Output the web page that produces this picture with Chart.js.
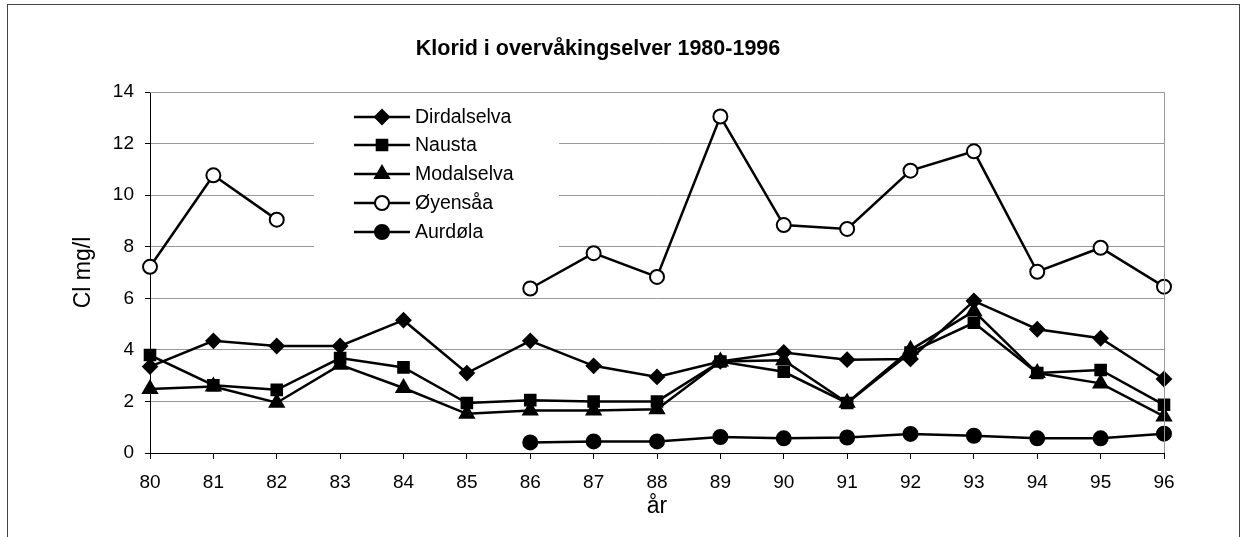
<!DOCTYPE html>
<html>
<head>
<meta charset="utf-8">
<script src="https://cdn.jsdelivr.net/npm/chart.js@4"></script>
<style>
  html, body { margin: 0; padding: 0; background: #fff; }
  #wrap { width: 1243px; height: 537px; position: relative; }
</style>
</head>
<body>
<div id="wrap"><canvas id="chart" width="1243" height="537"></canvas></div>
<script>
// years on the x axis
var years = ["80", "81", "82", "83", "84", "85", "86", "87", "88", "89", "90", "91", "92", "93", "94", "95", "96"];

// Cl mg/l per river
var dirdalselva = [3.35, 4.35, 4.15, 4.15, 5.15, 3.1, 4.35, 3.38, 2.95, 3.55, 3.9, 3.62, 3.65, 5.9, 4.8, 4.45, 2.87];
var nausta      = [3.8, 2.63, 2.45, 3.68, 3.32, 1.94, 2.05, 2.0, 2.0, 3.55, 3.15, 1.94, 3.9, 5.05, 3.1, 3.22, 1.87];
var modalselva  = [2.48, 2.58, 1.95, 3.42, 2.52, 1.52, 1.65, 1.65, 1.7, 3.55, 3.6, 1.95, 4.0, 5.5, 3.1, 2.7, 1.42];
var oyensaa     = [7.22, 10.77, 9.05, null, null, null, 6.38, 7.75, 6.83, 13.05, 8.84, 8.69, 10.95, 11.7, 7.03, 7.96, 6.45];
var aurdola     = [null, null, null, null, null, null, 0.41, 0.45, 0.45, 0.62, 0.57, 0.6, 0.74, 0.67, 0.57, 0.57, 0.75];

var seriesNames = ["Dirdalselva", "Nausta", "Modalselva", "Øyensåa", "Aurdøla"];
var yTicks = [0, 2, 4, 6, 8, 10, 12, 14];

var FONT = "'Liberation Sans', Arial, sans-serif";

function ds(label, data, style, radius, fill) {
  return {
    label: label,
    data: data,
    borderColor: "#000",
    borderWidth: 2.5,
    pointStyle: style,
    pointRadius: radius,
    pointHoverRadius: radius,
    pointBackgroundColor: fill,
    pointBorderColor: "#000",
    pointBorderWidth: 2,
    spanGaps: false,
    tension: 0
  };
}

var datasets = [
  ds(seriesNames[0], dirdalselva, "rectRot", 7, "#000"),
  ds(seriesNames[1], nausta, "rect", 7.5, "#000"),
  ds(seriesNames[2], modalselva, "triangle", 8, "#000"),
  ds(seriesNames[3], oyensaa, "circle", 7, "#fff"),
  ds(seriesNames[4], aurdola, "circle", 7, "#000")
];

// frame, plot border, title and the legend box inside the plot
var decor = {
  id: "decor",
  beforeDraw: function (chart) {
    var c = chart.ctx;
    c.save();
    c.fillStyle = "#fff";
    c.fillRect(0, 0, chart.width, chart.height);
    c.strokeStyle = "#444";
    c.lineWidth = 1;
    c.strokeRect(7.5, 4.5, 1232, 600);
    c.fillStyle = "#000";
    c.font = "bold 21.5px " + FONT;
    c.textAlign = "center";
    c.textBaseline = "middle";
    c.fillText("Klorid i overvåkingselver 1980-1996", 598, 49);
    c.restore();
  },
  afterDraw: function (chart) {
    var c = chart.ctx, a = chart.chartArea;
    c.save();
    c.strokeStyle = "#999";
    c.lineWidth = 1;
    c.beginPath();
    c.moveTo(a.left, a.top + 0.5);
    c.lineTo(a.right + 0.5, a.top + 0.5);
    c.lineTo(a.right + 0.5, a.bottom);
    c.stroke();
    c.restore();
  },
  beforeDatasetsDraw: function (chart) {
    var c = chart.ctx;
    c.save();
    c.fillStyle = "#fff";
    c.fillRect(314, 100, 245, 158);
    c.restore();
  },
  afterDatasetsDraw: function (chart) {
    var c = chart.ctx;
    var rows = [117, 145, 174, 203, 232];
    c.save();
    c.font = "19.5px " + FONT;
    c.textBaseline = "middle";
    c.textAlign = "left";
    for (var i = 0; i < datasets.length; i++) {
      var d = datasets[i], y = rows[i];
      c.strokeStyle = "#000";
      c.lineWidth = 2.5;
      c.beginPath();
      c.moveTo(354, y);
      c.lineTo(410, y);
      c.stroke();
      c.fillStyle = d.pointBackgroundColor;
      c.lineWidth = 2;
      Chart.helpers.drawPoint(c, { pointStyle: d.pointStyle, radius: d.pointRadius, borderWidth: 2 }, 382, y);
      c.fillStyle = "#000";
      c.fillText(d.label, 415, y + 1);
    }
    c.restore();
  }
};

new Chart(document.getElementById("chart"), {
  type: "line",
  data: { labels: years, datasets: datasets },
  options: {
    responsive: false,
    animation: false,
    layout: { padding: { left: 70, right: 79, top: 92, bottom: 17 } },
    plugins: {
      legend: { display: false },
      title: { display: false },
      tooltip: { enabled: false }
    },
    scales: {
      x: {
        offset: false,
        afterFit: function (s) { s.height = 67; },
        border: { color: "#000", width: 1 },
        grid: { drawOnChartArea: false, drawTicks: true, tickLength: 6, color: "#000" },
        ticks: { color: "#000", font: { family: FONT, size: 19 }, padding: 12, maxRotation: 0, autoSkip: false },
        title: { display: true, text: "år", color: "#000", font: { family: FONT, size: 23 }, padding: { top: 0, bottom: 0 } }
      },
      y: {
        min: 0,
        max: 14,
        afterFit: function (s) { s.width = 80; },
        afterBuildTicks: function (s) { s.ticks = yTicks.map(function (v) { return { value: v }; }); },
        border: { color: "#000", width: 1 },
        grid: { color: "#999", lineWidth: 1, drawTicks: true, tickLength: 5, tickColor: "#000" },
        ticks: { color: "#000", font: { family: FONT, size: 19 }, padding: 11 },
        title: { display: true, text: "Cl mg/l", color: "#000", font: { family: FONT, size: 23 }, padding: { top: 0, bottom: 0 } }
      }
    }
  },
  plugins: [decor]
});
</script>
</body>
</html>
